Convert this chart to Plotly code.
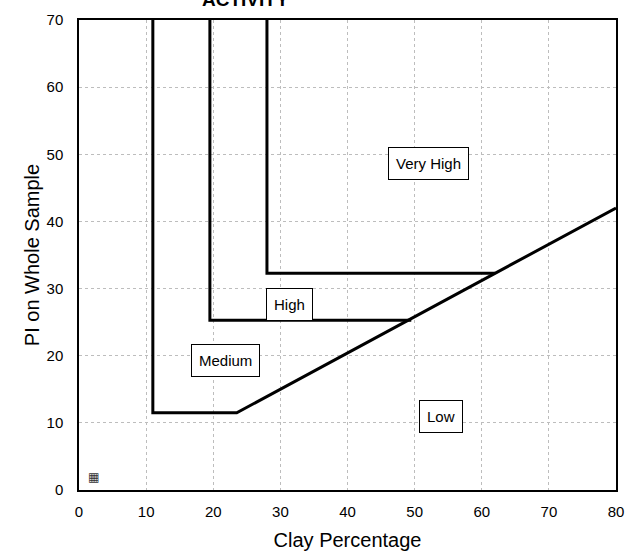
import plotly.graph_objects as go

# Boundary lines (Clay %, PI)
medium_x = [11, 11, 23.5, 80]
medium_y = [70, 11.5, 11.5, 42]
high_x = [19.5, 19.5, 49.5]
high_y = [70, 25.3, 25.3]
vhigh_x = [28, 28, 62]
vhigh_y = [70, 32.3, 32.3]

# Zone labels
label_text = ["Very High", "High", "Medium", "Low"]
label_x = [52, 31.3, 21.8, 54]
label_y = [48.7, 27.6, 19.3, 11]

x_ticks = [0, 10, 20, 30, 40, 50, 60, 70, 80]
y_ticks = [0, 10, 20, 30, 40, 50, 60, 70]

fig = go.Figure()
for xs, ys in [(medium_x, medium_y), (high_x, high_y), (vhigh_x, vhigh_y)]:
    fig.add_trace(go.Scatter(x=xs, y=ys, mode="lines",
                             line=dict(color="black", width=3),
                             showlegend=False, hoverinfo="skip"))

for t, x, y in zip(label_text, label_x, label_y):
    fig.add_annotation(x=x, y=y, text=t, showarrow=False,
                       font=dict(family="Liberation Sans, Arial", size=15, color="black"),
                       bgcolor="white", bordercolor="black", borderwidth=1, borderpad=7)

# small legend glyph in the corner
fig.add_annotation(x=1, y=2, text="▦", showarrow=False, xanchor="left",
                   font=dict(family="DejaVu Sans", size=12, color="#333"))

# partially visible title at the very top
fig.add_annotation(xref="paper", yref="paper", x=0.31, y=1, xanchor="center",
                   yanchor="bottom", yshift=8, text="<b>ACTIVITY</b>", showarrow=False,
                   font=dict(size=19, family="Liberation Sans, Arial", color="black"))

fig.update_layout(
    width=634, height=560,
    margin=dict(l=79, r=18, t=20, b=70),
    paper_bgcolor="white", plot_bgcolor="white",
    font=dict(family="Liberation Sans, Arial", color="black"),
    xaxis=dict(range=[0, 80], tickvals=x_ticks, showline=True, linecolor="black",
               linewidth=1.5, mirror=True, showgrid=True, gridcolor="#bdbdbd",
               griddash="dot", gridwidth=1, zeroline=False, ticks="",
               automargin=False,
               tickfont=dict(size=15), ticklabelstandoff=7,
               title=dict(text="Clay Percentage", font=dict(size=20), standoff=14)),
    yaxis=dict(range=[0, 70], tickvals=y_ticks, showline=True, linecolor="black",
               linewidth=1.5, mirror=True, showgrid=True, gridcolor="#bdbdbd",
               griddash="dot", gridwidth=1, zeroline=False, ticks="",
               automargin=False,
               tickfont=dict(size=15), ticklabelstandoff=11,
               title=dict(text="PI on Whole Sample", font=dict(size=20), standoff=2)),
)

fig.write_html("out.html", config={"displayModeBar": False},
               post_script="document.body.style.margin='0px';document.body.style.overflow='hidden';")
